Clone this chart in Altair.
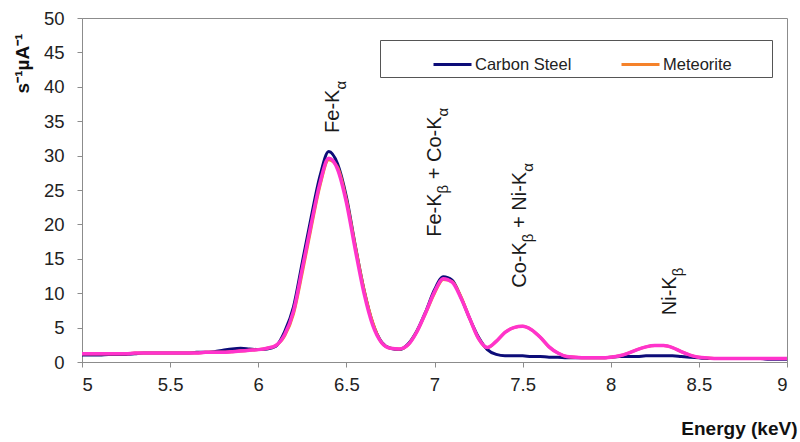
import altair as alt
import pandas as pd

# ---------------- data ----------------
energy = [5.00, 5.05, 5.10, 5.15, 5.20, 5.25, 5.30, 5.35, 5.40, 5.45,
          5.50, 5.55, 5.60, 5.65, 5.70, 5.75, 5.80, 5.85, 5.90, 5.95,
          6.00, 6.05, 6.10, 6.15, 6.20, 6.25, 6.30, 6.35, 6.40, 6.45,
          6.50, 6.55, 6.60, 6.65, 6.70, 6.75, 6.80, 6.85, 6.90, 6.95,
          7.00, 7.05, 7.10, 7.15, 7.20, 7.25, 7.30, 7.35, 7.40, 7.45,
          7.50, 7.55, 7.60, 7.65, 7.70, 7.75, 7.80, 7.85, 7.90, 7.95,
          8.00, 8.05, 8.10, 8.15, 8.20, 8.25, 8.30, 8.35, 8.40, 8.45,
          8.50, 8.55, 8.60, 8.65, 8.70, 8.75, 8.80, 8.85, 8.90, 8.95, 9.00]

carbon_steel = [1.0, 1.0, 1.0, 1.1, 1.1, 1.1, 1.2, 1.3, 1.3, 1.3,
                1.3, 1.3, 1.3, 1.4, 1.4, 1.5, 1.7, 1.9, 2.0, 1.9,
                1.8, 1.9, 2.3, 4.4, 8.0, 14.5, 21.0, 27.0, 30.6, 28.8,
                24.0, 17.0, 10.5, 5.6, 2.9, 2.0, 1.8, 2.6, 4.5, 7.3,
                10.5, 12.4, 11.9, 9.4, 6.3, 3.6, 1.8, 1.1, 0.9, 0.9,
                0.9, 0.8, 0.8, 0.7, 0.7, 0.6, 0.6, 0.6, 0.6, 0.6,
                0.7, 0.8, 0.8, 0.8, 0.9, 0.9, 0.9, 0.9, 0.8, 0.7,
                0.6, 0.5, 0.5, 0.5, 0.5, 0.5, 0.5, 0.5, 0.4, 0.4, 0.4]

meteorite = [1.2, 1.2, 1.2, 1.2, 1.2, 1.2, 1.3, 1.3, 1.3, 1.3,
             1.3, 1.3, 1.3, 1.3, 1.4, 1.4, 1.4, 1.5, 1.6, 1.7,
             1.8, 2.0, 2.4, 3.8, 7.0, 13.0, 19.5, 25.6, 29.4, 28.3,
             23.6, 16.9, 10.5, 5.7, 2.8, 2.0, 1.9, 2.5, 4.4, 7.1,
             10.0, 12.0, 11.7, 9.5, 6.3, 3.4, 2.1, 3.0, 4.3, 5.0,
             5.2, 4.7, 3.6, 2.2, 1.3, 0.8, 0.7, 0.6, 0.6, 0.6,
             0.7, 0.9, 1.3, 1.8, 2.2, 2.4, 2.4, 2.1, 1.5, 1.0,
             0.7, 0.6, 0.5, 0.5, 0.5, 0.5, 0.5, 0.5, 0.5, 0.5, 0.5]

meteorite_fit = [1.2, 1.2, 1.2, 1.2, 1.2, 1.2, 1.3, 1.3, 1.3, 1.3,
                 1.3, 1.3, 1.3, 1.3, 1.4, 1.4, 1.4, 1.5, 1.6, 1.7,
                 1.8, 2.0, 2.4, 4.0, 7.4, 13.6, 20.0, 26.0, 29.6, 28.0,
                 23.2, 16.4, 10.0, 5.3, 2.8, 2.0, 1.9, 2.5, 4.4, 7.2,
                 10.2, 12.1, 11.6, 9.3, 6.3, 3.4, 2.1, 3.0, 4.3, 5.0,
                 5.2, 4.7, 3.6, 2.2, 1.3, 0.8, 0.7, 0.6, 0.6, 0.6,
                 0.7, 0.9, 1.3, 1.8, 2.2, 2.4, 2.4, 2.1, 1.5, 1.0,
                 0.7, 0.6, 0.5, 0.5, 0.5, 0.5, 0.5, 0.5, 0.5, 0.5, 0.5]

series_names = ["Carbon Steel", "Meteorite"]
series_colors = ["#0c0c78", "#f5822a"]
fit_color = "#ff33cc"

x_ticks = [5, 5.5, 6, 6.5, 7, 7.5, 8, 8.5, 9]
y_ticks = [0, 5, 10, 15, 20, 25, 30, 35, 40, 45, 50]

x_title = "Energy (keV)"
y_title = "s\u207b\u00b9\u00b5A\u207b\u00b9"

# peak labels: anchor (keV, counts) of the label's lower end, and its text pieces
# (piece, is_subscript)
peak_label_x = [6.424, 7.003, 7.485, 8.336]
peak_label_y = [33.3, 18.2, 10.8, 6.8]
peak_label_parts = [
    [("Fe-K", False), ("\u03b1", True)],
    [("Fe-K", False), ("\u03b2", True), ("+ Co-K", False), ("\u03b1", True)],
    [("Co-K", False), ("\u03b2", True), ("+ Ni-K", False), ("\u03b1", True)],
    [("Ni-K", False), ("\u03b2", True)],
]

# ---------------- build ----------------
FONT = "Liberation Sans"
MAIN_SIZE = 20
SUB_SIZE = 15
# Arial-metric advance widths (em) used to chain the label pieces
EM = {"F": 0.611, "e": 0.556, "-": 0.333, "K": 0.667, "C": 0.722, "o": 0.556,
      "N": 0.722, "i": 0.222, "+": 0.584, " ": 0.278,
      "\u03b1": 0.578, "\u03b2": 0.575}

rows = []
for name, vals in zip(series_names, [carbon_steel, meteorite]):
    for e, v in zip(energy, vals):
        rows.append({"Energy": e, "Counts": v, "Series": name})
df = pd.DataFrame(rows)
fit_df = pd.DataFrame({"Energy": energy, "Counts": meteorite_fit})

x_scale = alt.Scale(domain=[5, 9], nice=False, zero=False)
y_scale = alt.Scale(domain=[0, 50], nice=False)

x_axis = alt.Axis(values=x_ticks, format="~g", title=x_title, tickSize=5,
                  labelPadding=8, labelOverlap=False, titleX=715, titleY=66,
                  titleAlign="right", titleBaseline="middle")
y_axis = alt.Axis(values=y_ticks, title=y_title, tickSize=5, labelPadding=13,
                  labelOverlap=False, titleX=-60, titleY=45, titleAngle=270,
                  titleAlign="center", titleBaseline="middle")

# blank (non-whitespace) characters widen the legend box on the right
blank_pad = "\u2800" * 3
legend = alt.Legend(
    orient="none", legendX=298, legendY=22, direction="horizontal", title=None,
    strokeColor="#555555", fillColor="white", padding=4,
    symbolType="stroke", symbolSize=1444, symbolStrokeWidth=3,
    symbolOffset=48, labelOffset=2, columnPadding=-10,
    labelFont=FONT, labelFontSize=16.5, labelColor="#222222",
    labelExpr="datum.label == 'Meteorite' ? 'Meteorite" + blank_pad + "' : datum.label",
)

lines = alt.Chart(df).mark_line(strokeWidth=3, interpolate="monotone").encode(
    x=alt.X("Energy:Q", scale=x_scale, axis=x_axis),
    y=alt.Y("Counts:Q", scale=y_scale, axis=y_axis),
    color=alt.Color("Series:N", scale=alt.Scale(domain=series_names, range=series_colors),
                    legend=legend),
    order=alt.Order("Energy:Q"),
)

fit = alt.Chart(fit_df).mark_line(strokeWidth=3.5, interpolate="monotone",
                                  color=fit_color).encode(
    x=alt.X("Energy:Q", scale=x_scale, axis=x_axis),
    y=alt.Y("Counts:Q", scale=y_scale, axis=y_axis),
)

layers = [lines, fit]
for lx, ly, parts in zip(peak_label_x, peak_label_y, peak_label_parts):
    offset = 0.0
    prev_sub = False
    for text, sub in parts:
        if prev_sub and not sub:
            offset += EM[" "] * MAIN_SIZE
        size = SUB_SIZE if sub else MAIN_SIZE
        tdf = pd.DataFrame({"Energy": [lx], "Counts": [ly], "Label": [text]})
        layers.append(
            alt.Chart(tdf).mark_text(
                angle=270, align="left", baseline="middle", font=FONT,
                fontSize=size, color="#1a1a1a", dx=offset, dy=8 if sub else 0,
            ).encode(
                x=alt.X("Energy:Q", scale=x_scale, axis=x_axis),
                y=alt.Y("Counts:Q", scale=y_scale, axis=y_axis),
                text="Label:N",
            )
        )
        offset += sum(EM.get(ch, 0.56) for ch in text) * size
        prev_sub = sub

chart = alt.layer(*layers).properties(
    width=705, height=344,
    autosize=alt.AutoSizeParams(type="none"),
    padding={"left": 82, "top": 18, "right": 13, "bottom": 80},
).configure_view(
    stroke="#8c8c8c", strokeWidth=1
).configure_axis(
    grid=False, domainColor="#8c8c8c", tickColor="#8c8c8c",
    labelFont=FONT, labelFontSize=18.5, labelColor="#222222",
    titleFont=FONT, titleFontSize=19, titleFontWeight="bold", titleColor="#111111",
)

chart.save("out.html", embed_options={"renderer": "svg", "actions": False})
